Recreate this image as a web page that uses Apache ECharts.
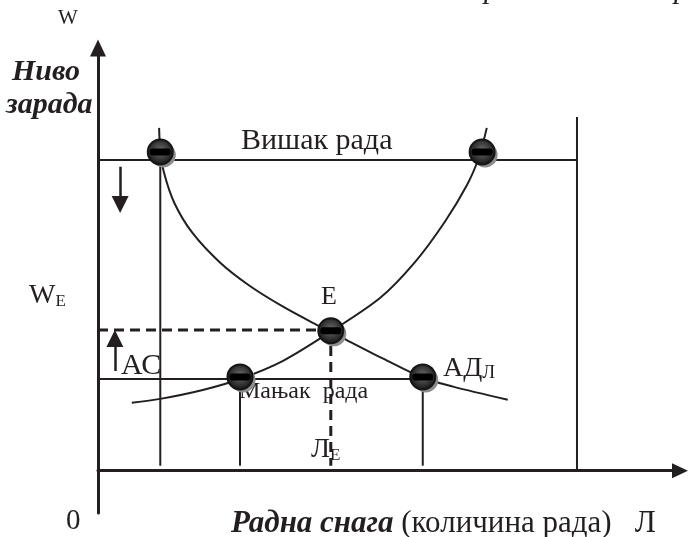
<!DOCTYPE html>
<html>
<head>
<meta charset="utf-8">
<script src="https://cdn.jsdelivr.net/npm/echarts@6/dist/echarts.min.js"></script>
<style>
  html, body { margin: 0; padding: 0; background: #fff; }
  #chart { width: 688px; height: 537px; }
</style>
</head>
<body>
<div id="chart"></div>
<script>
// wage levels (y) and labour quantities (x)
const wSurplus = 73.5;   // "Вишак рада" line
const wEquil = 33.3;     // W_E
const wShortage = 21.7;  // "Мањак рада" line
const lLeft = 10.7;
const lShortS = 24.4;
const lEquil = 40.0;
const lShortD = 55.8;
const lMax = 82.3;
const lMaxTop = 83.7;
const dropBottom = 1.2;

// supply curve AC
const supplyL = [5.8, 10.7, 18.0, 24.4, 31.8, 40.0, 48.5, 54.5, 59.6, 63.4, 65.3, 66.3, 66.8];
const supplyW = [16.1, 17.0, 19.1, 21.7, 26.0, 32.9, 40.9, 49.4, 58.9, 67.6, 73.5, 78.3, 81.1];

// demand curve AD_L
const demandL = [10.5, 10.7, 11.3, 13.1, 16.2, 21.0, 26.1, 31.8, 36.9, 40.0, 43.3, 49.0, 55.8, 61.0, 70.4];
const demandW = [81.1, 75.9, 70.7, 63.4, 56.3, 49.2, 43.7, 38.8, 35.0, 32.9, 30.5, 26.5, 22.0, 19.9, 16.8];

// the round markers
const ballL = [10.7, 66.0, 40.0, 24.4, 55.8];
const ballW = [75.4, 75.4, 33.1, 22.2, 22.2];

// small arrows: [x, yFrom, yTo] (yTo is the centre of the head)
const downArrow = [3.8, 71.9, 63.0];
const upArrow = [2.9, 23.6, 31.3];

const ink = '#231f20';
const serif = '"Liberation Serif", "DejaVu Serif", serif';

const zip = (xs, ys) => xs.map((x, i) => [x, ys[i]]);

function segment(points, dashed) {
  return {
    type: 'line',
    data: points,
    symbol: 'none',
    silent: true,
    lineStyle: { color: ink, width: dashed ? 3 : 2, type: dashed ? [10, 6] : 'solid' },
    z: 2
  };
}

function label(left, top, text, size, style) {
  return {
    type: 'text', left: left, top: top,
    style: Object.assign({ text: text, font: size + 'px ' + serif, fill: ink }, style || {})
  };
}

const sub = size => ({ s: { font: size + 'px ' + serif, fill: ink, verticalAlign: 'bottom' } });

const chart = echarts.init(document.getElementById('chart'));

const ballFill = new echarts.graphic.RadialGradient(0.5, 0.45, 0.55, [
  { offset: 0, color: '#6e6e6e' },
  { offset: 0.7, color: '#2c2c2c' },
  { offset: 1, color: '#111' }
]);

chart.setOption({
  animation: false,
  grid: { left: 98, right: 8, top: 48, bottom: 24 },
  xAxis: {
    type: 'value', min: 0, max: 100,
    axisLine: { onZero: true, symbol: ['none', 'triangle'], symbolSize: [15, 16], lineStyle: { color: ink, width: 3 } },
    axisTick: { show: false }, axisLabel: { show: false }, splitLine: { show: false }
  },
  yAxis: {
    type: 'value', min: -10, max: 100,
    axisLine: { show: true, symbol: ['none', 'triangle'], symbolSize: [16, 17], lineStyle: { color: ink, width: 3 } },
    axisTick: { show: false }, axisLabel: { show: false }, splitLine: { show: false }
  },
  series: [
    segment([[0, wSurplus], [lMax, wSurplus]]),
    segment([[lMax, lMaxTop], [lMax, 0]]),
    segment([[0, wShortage], [lShortD, wShortage]]),
    segment([[lLeft, wSurplus], [lLeft, dropBottom]]),
    segment([[lShortS, wShortage], [lShortS, dropBottom]]),
    segment([[lShortD, wShortage], [lShortD, dropBottom]]),
    segment([[0, wEquil], [lEquil, wEquil]], true),
    segment([[lEquil, wEquil], [lEquil, dropBottom]], true),
    {
      type: 'line', name: 'AC', data: zip(supplyL, supplyW), smooth: 0.3,
      symbol: 'none', lineStyle: { color: ink, width: 2 }, z: 3
    },
    {
      type: 'line', name: 'AD', data: zip(demandL, demandW), smooth: 0.3,
      symbol: 'none', lineStyle: { color: ink, width: 2 }, z: 3
    },
    {
      type: 'lines', coordinateSystem: 'cartesian2d', polyline: false,
      symbol: ['none', 'triangle'], symbolSize: [15, 17],
      lineStyle: { color: ink, width: 2.5, opacity: 1 },
      data: [
        { coords: [[downArrow[0], downArrow[1]], [downArrow[0], downArrow[2]]] },
        { coords: [[upArrow[0], upArrow[1]], [upArrow[0], upArrow[2]]] }
      ],
      z: 4
    },
    {
      type: 'custom', data: zip(ballL, ballW), z: 5,
      renderItem: (params, api) => {
        const p = api.coord([api.value(0), api.value(1)]);
        return {
          type: 'group',
          children: [
            { type: 'circle', shape: { cx: p[0] + 3, cy: p[1] + 3, r: 12.5 }, style: { fill: '#8c8c8c' } },
            { type: 'circle', shape: { cx: p[0], cy: p[1], r: 12.5 }, style: { fill: ballFill, stroke: '#151515', lineWidth: 2 } },
            { type: 'rect', shape: { x: p[0] - 10.5, y: p[1] - 3.5, width: 21, height: 7, r: 3 }, style: { fill: '#000' } }
          ]
        };
      }
    }
  ],
  graphic: [
    label(484, -25, 'р', 30, { font: 'italic 30px ' + serif }),
    label(674, -25, 'р', 30, { font: 'italic 30px ' + serif }),
    label(58, 8, 'W', 21),
    label(12, 57, 'Ниво', 30, { font: 'italic bold 30px ' + serif }),
    label(6, 90, 'зарада', 30, { font: 'italic bold 30px ' + serif }),
    label(241, 126, 'Вишак рада', 30),
    label(29, 282, 'W{s|E}', 28, { rich: sub(17) }),
    label(321, 284, 'E', 26),
    label(121, 351, 'АС', 30),
    label(443, 355, 'АД{s|Л}', 28, { rich: sub(19) }),
    label(239, 380, 'Мањак  рада', 24),
    label(311, 436, 'Л{s|E}', 28, { rich: sub(17) }),
    label(66, 507, '0', 29),
    label(231, 508, '{b|Радна снага} (количина рада)   Л', 31, {
      rich: { b: { font: 'italic bold 31px ' + serif, fill: ink } }
    })
  ]
});
</script>
</body>
</html>
